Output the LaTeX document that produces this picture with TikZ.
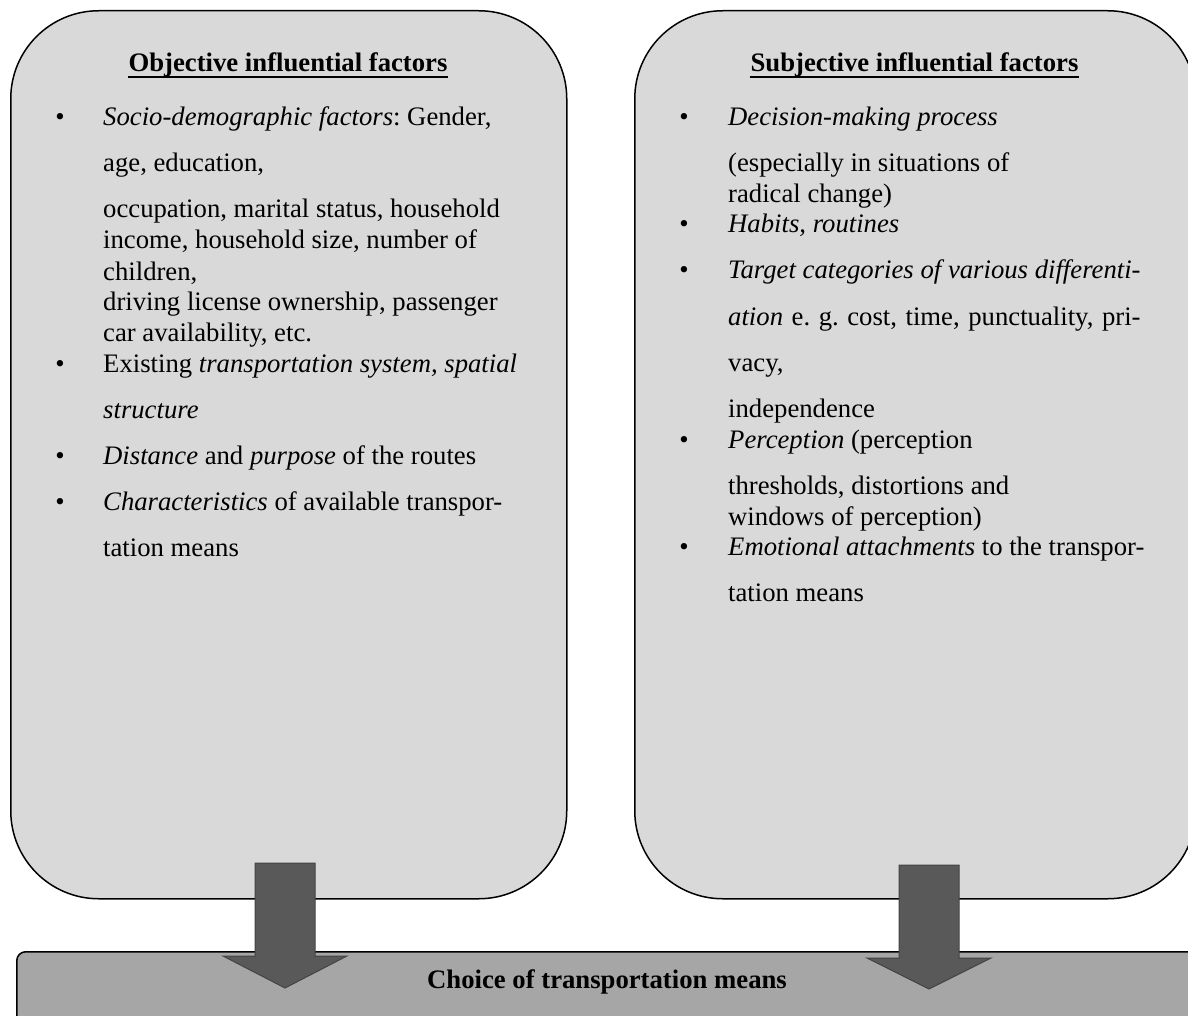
\documentclass[tikz,border=0pt]{standalone}
\usepackage{fontspec}
\setmainfont{Liberation Serif}
\definecolor{boxfill}{HTML}{D9D9D9}
\definecolor{barfill}{HTML}{A6A6A6}
\definecolor{arrowfill}{HTML}{595959}
\definecolor{arrowline}{HTML}{434343}
\newlength\targetw
\begin{document}
\frenchspacing
\settowidth{\targetw}{\fontsize{26.7pt}{30.7pt}\selectfont\itshape Target categories of various differenti-}
\begin{tikzpicture}[x=1pt,y=-1pt,
  panel/.style={draw=black,line width=1.5pt,fill=boxfill,rounded corners=88pt,inner sep=0pt,anchor=north west},
  barbox/.style={draw=black,line width=1.5pt,fill=barfill,rounded corners=9pt,inner sep=0pt,anchor=north west},
  txt/.style={inner sep=0pt,font=\fontsize{26.7pt}{30.7pt}\selectfont,anchor=base west},
  bul/.style={inner sep=0pt,font=\fontsize{26.7pt}{30.7pt}\selectfont,anchor=base},
  ttl/.style={inner sep=0pt,font=\fontsize{26.7pt}{30.7pt}\selectfont\bfseries,anchor=base},
  uline/.style={line width=1.7pt},
  bigarrow/.style={fill=arrowfill,draw=arrowline,line width=1pt,line join=miter}]
\useasboundingbox (0,0) rectangle (1188,1016);
\clip (0,0) rectangle (1188,1016);

% panels
\node[panel,minimum width=556pt,minimum height=888pt] (obj) at (10,10) {};
\node[panel,minimum width=561pt,minimum height=888pt] (subj) at (634,10) {};
\node[barbox,minimum width=1182pt,minimum height=72pt] (choice) at (16,951) {};

% titles
\node[ttl] (lt) at (288,72) {Objective influential factors};
\draw[uline] ([yshift=-5pt]lt.base west) -- ([yshift=-5pt]lt.base east);
\node[ttl] (rt) at (914.5,72) {Subjective influential factors};
\draw[uline] ([yshift=-5pt]rt.base west) -- ([yshift=-5pt]rt.base east);

% left column
\node[bul] (lb1) at (60,126) {•};
\node[txt] (l1) at (103,126) {\textit{Socio-demographic factors}: Gender,};
\node[txt] (l2) at (103,172) {age, education,};
\node[txt] (l3) at (103,218) {occupation, marital status, household};
\node[txt] (l4) at (103,249) {income, household size, number of};
\node[txt] (l5) at (103,280) {children,};
\node[txt] (l6) at (103,310) {driving license ownership, passenger};
\node[txt] (l7) at (103,341) {car availability, etc.};
\node[bul] (lb2) at (60,372) {•};
\node[txt] (l8) at (103,372) {Existing \textit{transportation system, spatial}};
\node[txt] (l9) at (103,418) {\textit{structure}};
\node[bul] (lb3) at (60,464) {•};
\node[txt] (l10) at (103,464) {\textit{Distance} and \textit{purpose} of the routes};
\node[bul] (lb4) at (60,510) {•};
\node[txt] (l11) at (103,510) {\textit{Characteristics} of available transpor-};
\node[txt] (l12) at (103,556) {tation means};

% right column
\node[bul] (rb1) at (684,126) {•};
\node[txt] (r1) at (728,126) {\textit{Decision-making process}};
\node[txt] (r2) at (728,172) {(especially in situations of};
\node[txt] (r3) at (728,203) {radical change)};
\node[bul] (rb2) at (684,233) {•};
\node[txt] (r4) at (728,233) {\textit{Habits, routines}};
\node[bul] (rb3) at (684,279) {•};
\node[txt] (r5) at (728,279) {\textit{Target categories of various differenti-}};
\node[txt] (r6) at (728,325) {\makebox[\targetw][s]{\textit{ation} e. g. cost, time, punctuality, pri-}};
\node[txt] (r7) at (728,371) {vacy,};
\node[txt] (r8) at (728,417) {independence};
\node[bul] (rb4) at (684,448) {•};
\node[txt] (r9) at (728,448) {\textit{Perception} (perception};
\node[txt] (r10) at (728,494) {thresholds, distortions and};
\node[txt] (r11) at (728,525) {windows of perception)};
\node[bul] (rb5) at (684,555) {•};
\node[txt] (r12) at (728,555) {\textit{Emotional attachments} to the transpor-};
\node[txt] (r13) at (728,601) {tation means};

% bottom text
\node[ttl] (ct) at (607,988) {Choice of transportation means};

% arrows
\draw[bigarrow] (255,863) -- (315,863) -- (315,956) -- (347,956) -- (285,988) -- (223,956) -- (255,956) -- cycle;
\draw[bigarrow] (899,865) -- (959,865) -- (959,958) -- (991,958) -- (929,989) -- (867,958) -- (899,958) -- cycle;
\end{tikzpicture}
\end{document}
